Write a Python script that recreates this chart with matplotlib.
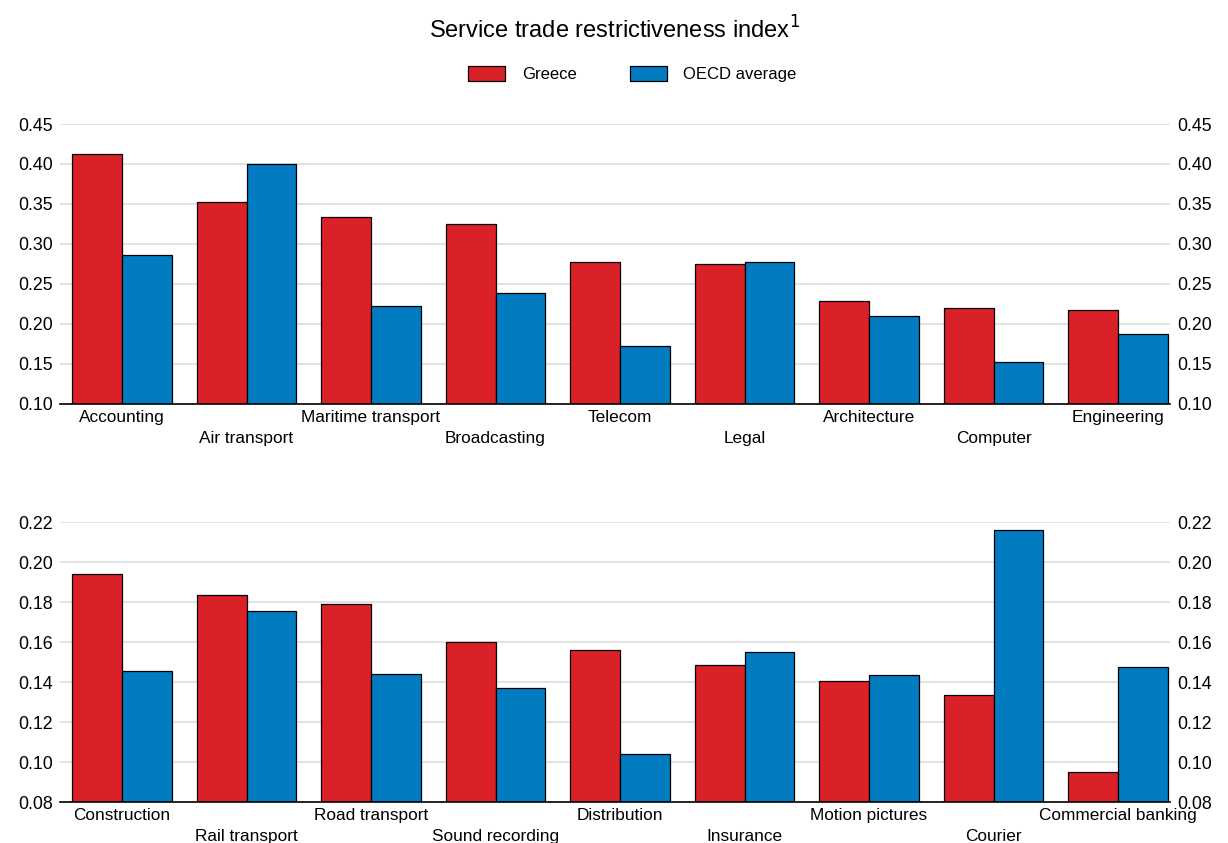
import matplotlib
matplotlib.use("Agg")
import matplotlib.pyplot as plt
import numpy as np
from matplotlib.patches import Rectangle

plt.rcParams['font.family'] = ['Liberation Sans', 'DejaVu Sans']

top_categories = ["Accounting", "Air transport", "Maritime transport", "Broadcasting",
                  "Telecom", "Legal", "Architecture", "Computer", "Engineering"]
top_greece = [0.412, 0.353, 0.334, 0.325, 0.277, 0.275, 0.229, 0.220, 0.217]
top_oecd = [0.286, 0.400, 0.222, 0.239, 0.173, 0.277, 0.210, 0.152, 0.188]
top_ticks = [0.10, 0.15, 0.20, 0.25, 0.30, 0.35, 0.40, 0.45]

bot_categories = ["Construction", "Rail transport", "Road transport", "Sound recording",
                  "Distribution", "Insurance", "Motion pictures", "Courier", "Commercial banking"]
bot_greece = [0.194, 0.1835, 0.179, 0.160, 0.156, 0.1485, 0.1405, 0.1335, 0.095]
bot_oecd = [0.1455, 0.1755, 0.144, 0.137, 0.104, 0.155, 0.1435, 0.2158, 0.1475]
bot_ticks = [0.08, 0.10, 0.12, 0.14, 0.16, 0.18, 0.20, 0.22]

RED = "#DA2128"
BLUE = "#037BC1"

fig = plt.figure(figsize=(12.28, 8.43), dpi=100)
ax1 = fig.add_axes([0.0487, 0.5208, 0.9043, 0.3321])
ax2 = fig.add_axes([0.0487, 0.0486, 0.9043, 0.3321])

def draw(ax, cats, g, o, ticks):
    x = np.arange(len(cats))
    w = 0.4
    ax.bar(x - w / 2, g, w, bottom=0, color=RED, edgecolor="black", linewidth=0.9, zorder=3)
    ax.bar(x + w / 2, o, w, bottom=0, color=BLUE, edgecolor="black", linewidth=0.9, zorder=3)
    ax.set_ylim(ticks[0], ticks[-1])
    ax.set_xlim(-0.5, 8.42)
    ax.set_yticks(ticks)
    ax.set_yticklabels([f"{t:.2f}" for t in ticks])
    ax.yaxis.grid(True, color="#DDDDDD", linewidth=1.2, zorder=0)
    ax.set_axisbelow(True)
    for s in ["top", "left", "right"]:
        ax.spines[s].set_visible(False)
    ax.spines["bottom"].set_color("black")
    ax.spines["bottom"].set_linewidth(1.2)
    ax.spines["bottom"].set_zorder(4)
    ax.tick_params(axis="y", length=0, labelsize=12.8, pad=5, labelright=True, right=False)
    ax.tick_params(axis="x", length=0, labelsize=12.4, pad=4)
    ax.set_xticks(x)
    ax.set_xticklabels(cats)
    for i, lab in enumerate(ax.get_xticklabels()):
        lab.set_y(0 if i % 2 == 0 else -0.078)

draw(ax1, top_categories, top_greece, top_oecd, top_ticks)
draw(ax2, bot_categories, bot_greece, bot_oecd, bot_ticks)

fig.text(0.5, 0.965, r"Service trade restrictiveness index$^{1}$", ha="center", va="center",
         fontsize=17)

handles = [Rectangle((0, 0), 1, 1, facecolor=RED, edgecolor="black", linewidth=0.9),
           Rectangle((0, 0), 1, 1, facecolor=BLUE, edgecolor="black", linewidth=0.9)]
fig.legend(handles, ["Greece", "OECD average"], loc="center", bbox_to_anchor=(0.515, 0.912),
           ncol=2, frameon=False, fontsize=12, handlelength=2.2, handleheight=1.05,
           columnspacing=3.2, handletextpad=1.0)

fig.savefig("out.png", dpi=100)
